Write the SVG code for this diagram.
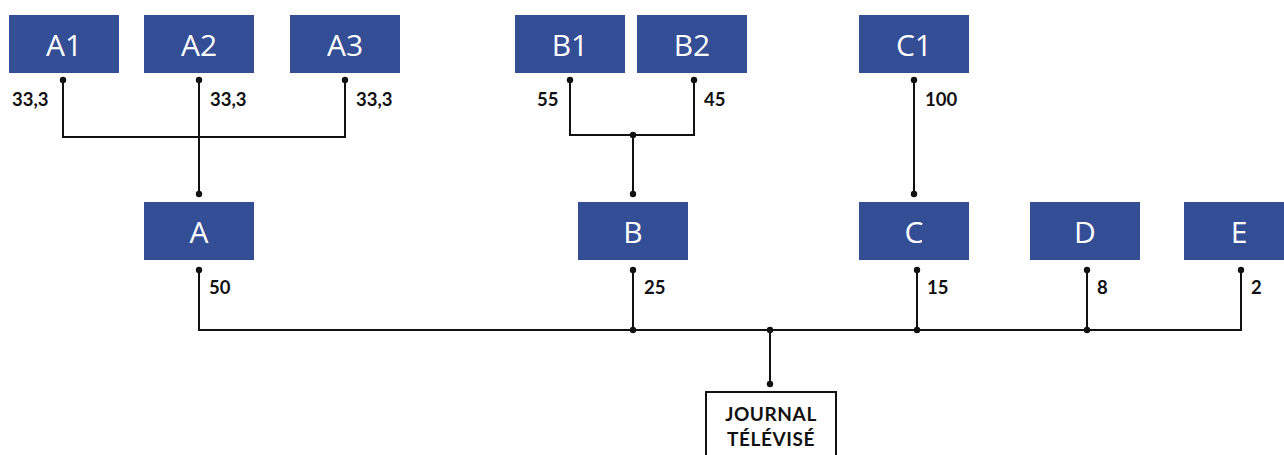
<svg xmlns="http://www.w3.org/2000/svg" width="1284" height="455" viewBox="0 0 1284 455">
<style>
.n rect{fill:#344e96}
.n text{fill:#fff;font-family:"Open Sans","Liberation Sans",sans-serif;font-size:30px;text-anchor:middle}
.c path{fill:none;stroke:#111;stroke-width:2}
.c circle{fill:#111}
.l{font-family:Lato,"Liberation Sans",sans-serif;font-weight:bold;font-size:18.5px;fill:#111}
.j rect{fill:#fff;stroke:#111;stroke-width:2}
.j text{font-family:Lato,"Liberation Sans",sans-serif;font-weight:bold;font-size:19px;fill:#111;text-anchor:middle;letter-spacing:0.6px}
</style>
<g id="connectors" class="c">
<path d="M63 80V137H345V80M199 80V194"/>
<path d="M570 80V135H694V80M633 135V194"/>
<path d="M914 80V194"/>
<path d="M199 270V330H1241V270M633 270V330M917 270V330M1087 270V330M770 330V384"/>
<circle cx="63" cy="80" r="3.2"/><circle cx="199" cy="80" r="3.2"/><circle cx="345" cy="80" r="3.2"/><circle cx="199" cy="194" r="3.2"/>
<circle cx="570" cy="80" r="3.2"/><circle cx="694" cy="80" r="3.2"/><circle cx="633" cy="135" r="3.2"/><circle cx="633" cy="194" r="3.2"/>
<circle cx="914" cy="80" r="3.2"/><circle cx="914" cy="194" r="3.2"/>
<circle cx="199" cy="270" r="3.2"/><circle cx="633" cy="270" r="3.2"/><circle cx="917" cy="270" r="3.2"/><circle cx="1087" cy="270" r="3.2"/><circle cx="1241" cy="270" r="3.2"/>
<circle cx="633" cy="330" r="3.2"/><circle cx="917" cy="330" r="3.2"/><circle cx="1087" cy="330" r="3.2"/><circle cx="770" cy="330" r="3.2"/><circle cx="770" cy="384" r="3.2"/>
</g>
<g id="labels">
<text class="l" x="12" y="106">33,3</text>
<text class="l" x="210" y="106">33,3</text>
<text class="l" x="356" y="106">33,3</text>
<text class="l" x="537" y="106">55</text>
<text class="l" x="704" y="106">45</text>
<text class="l" x="925" y="106">100</text>
<text class="l" x="209" y="294">50</text>
<text class="l" x="644" y="294">25</text>
<text class="l" x="927" y="294">15</text>
<text class="l" x="1097" y="294">8</text>
<text class="l" x="1251" y="294">2</text>
</g>
<g id="A1" class="n"><rect x="9" y="15" width="110" height="58"/><text x="64" y="56">A1</text></g>
<g id="A2" class="n"><rect x="144" y="15" width="110" height="58"/><text x="199" y="56">A2</text></g>
<g id="A3" class="n"><rect x="290" y="15" width="110" height="58"/><text x="345" y="56">A3</text></g>
<g id="B1" class="n"><rect x="515" y="15" width="110" height="58"/><text x="570" y="56">B1</text></g>
<g id="B2" class="n"><rect x="637" y="15" width="110" height="58"/><text x="692" y="56">B2</text></g>
<g id="C1" class="n"><rect x="859" y="15" width="110" height="58"/><text x="914" y="56">C1</text></g>
<g id="A" class="n"><rect x="144" y="202" width="110" height="58"/><text x="199" y="243">A</text></g>
<g id="B" class="n"><rect x="578" y="202" width="110" height="58"/><text x="633" y="243">B</text></g>
<g id="C" class="n"><rect x="859" y="202" width="110" height="58"/><text x="914" y="243">C</text></g>
<g id="D" class="n"><rect x="1030" y="202" width="110" height="58"/><text x="1085" y="243">D</text></g>
<g id="E" class="n"><rect x="1184" y="202" width="110" height="58"/><text x="1239" y="243">E</text></g>
<g id="journal" class="j"><rect x="706" y="392" width="130" height="70"/><text x="771" y="421">JOURNAL</text><text x="771" y="446">TÉLÉVISÉ</text></g>
</svg>
